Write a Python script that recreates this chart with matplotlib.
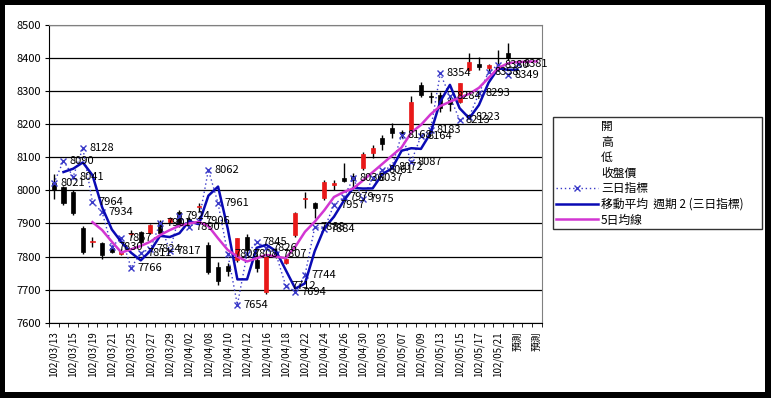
import numpy as np
import pandas as pd
import matplotlib
matplotlib.use("Agg")
import matplotlib.pyplot as plt
from matplotlib.lines import Line2D
from matplotlib.patches import Rectangle

# CJK font first, DejaVu as fallback
plt.rcParams["font.family"] = ["Noto Sans CJK TC", "DejaVu Sans"]

# category labels (trading days + 3 forecast slots)
dates = [
    "102/03/13", "102/03/14", "102/03/15", "102/03/18", "102/03/19", "102/03/20",
    "102/03/21", "102/03/22", "102/03/25", "102/03/26", "102/03/27", "102/03/28",
    "102/03/29", "102/04/01", "102/04/02", "102/04/03", "102/04/08", "102/04/09",
    "102/04/10", "102/04/11", "102/04/12", "102/04/15", "102/04/16", "102/04/17",
    "102/04/18", "102/04/19", "102/04/22", "102/04/23", "102/04/24", "102/04/25",
    "102/04/26", "102/04/29", "102/04/30", "102/05/02", "102/05/03", "102/05/06",
    "102/05/07", "102/05/08", "102/05/09", "102/05/10", "102/05/13", "102/05/14",
    "102/05/15", "102/05/16", "102/05/17", "102/05/20", "102/05/21", "102/05/22",
    "預測", "預測", "預測",
]

# daily candles (first 48 categories)
open_ = [8022, 8010, 7995, 7885, 7845, 7840, 7825, 7808, 7868, 7875,
         7870, 7905, 7905, 7935, 7915, 7950, 7835, 7768, 7770, 7790,
         7858, 7790, 7694, 7815, 7780, 7865, 7975, 7962, 7976, 8016,
         8036, 8044, 8067, 8113, 8157, 8188, 8178, 8183, 8318, 8285,
         8288, 8272, 8268, 8364, 8383, 8370, 8378, 8414]
high = [8050, 8012, 8000, 7892, 7860, 7843, 7830, 7822, 7880, 7878,
        7897, 7910, 7920, 7940, 7920, 7962, 7845, 7785, 7780, 7856,
        7868, 7805, 7802, 7825, 7795, 7935, 7996, 7966, 8030, 8031,
        8082, 8052, 8115, 8137, 8167, 8203, 8183, 8285, 8328, 8298,
        8298, 8282, 8326, 8414, 8404, 8382, 8424, 8445]
low = [7975, 7955, 7925, 7808, 7830, 7792, 7810, 7806, 7858, 7835,
       7868, 7865, 7900, 7890, 7900, 7935, 7748, 7714, 7740, 7785,
       7805, 7752, 7686, 7795, 7778, 7860, 7946, 7916, 7972, 8001,
       8024, 8011, 8062, 8097, 8122, 8157, 8157, 8178, 8283, 8263,
       8238, 8240, 8265, 8360, 8364, 8360, 8362, 8394]
close = [8001, 7962, 7932, 7815, 7847, 7805, 7815, 7818, 7870, 7845,
         7895, 7872, 7917, 7895, 7905, 7952, 7752, 7725, 7755, 7855,
         7820, 7765, 7800, 7800, 7792, 7932, 7976, 7946, 8026, 8022,
         8027, 8031, 8110, 8127, 8141, 8173, 8171, 8268, 8288, 8283,
         8248, 8262, 8324, 8389, 8374, 8379, 8380, 8400]

# 三日指標 (runs into the first forecast slot)
index3 = [8021, 8090, 8041, 8128, 7964, 7934, 7830, 7857, 7766, 7811,
          7824, 7901, 7817, 7924, 7890, 7906, 8062, 7961, 7808, 7654,
          7808, 7845, 7826, 7807, 7712, 7694, 7744, 7888, 7884, 7957,
          7979, 8036, 7975, 8037, 8061, 8072, 8168, 8087, 8164, 8183,
          8354, 8284, 8213, 8223, 8293, 8358, 8380, 8349, 8381]

# 5日均線, starts on the 5th category
ma5 = [None, None, None, None,
       7904, 7880, 7845, 7812, 7822, 7832, 7845, 7865, 7880, 7893,
       7900, 7905, 7892, 7855, 7820, 7800, 7785, 7795, 7805, 7800,
       7795, 7830, 7875, 7905, 7940, 7980, 7995, 8006, 8030, 8055,
       8080, 8105, 8130, 8175, 8198, 8230, 8255, 8268, 8280, 8292,
       8310, 8340, 8370, 8384, 8388, 8389, 8390]

legend_labels = ["開", "高", "低", "收盤價", "三日指標",
                 "移動平均  週期 2 (三日指標)", "5日均線"]

RED = "#e81818"
BLUE_DOT = "#3a3ac8"
BLUE_MA = "#0a0ab4"
MAGENTA = "#d236d2"

W, H = 771, 398
fig = plt.figure(figsize=(W / 100, H / 100), dpi=100)
fig.patch.set_facecolor("black")
# white chart area inside the black frame (drawn below the axes)
fig.patches.append(Rectangle((5 / W, 6 / H), 760 / W, 387 / H,
                             transform=fig.transFigure, facecolor="white",
                             edgecolor="none", zorder=-5))

ax = fig.add_axes([49 / W, 1 - 322.7 / H, 492.7 / W, 297.7 / H])
ax.set_facecolor("white")

x = np.arange(len(dates))
n_candle = len(open_)

# candles: high-low line then body
for i in range(n_candle):
    o, c = open_[i], close[i]
    ax.vlines(i, low[i], high[i], color="black", lw=1, zorder=3)
    col = RED if c > o else "black"
    h = max(abs(c - o), 2)
    ax.bar(i, h, bottom=min(o, c), width=0.42, color=col,
           edgecolor=col, lw=0.5, zorder=4)

# 三日指標, dotted with x markers and value labels
x3 = np.arange(len(index3))
ax.plot(x3, index3, color=BLUE_DOT, ls=(0, (1, 2)), lw=1, marker="x",
        ms=5, mew=1, zorder=5)
for i, v in enumerate(index3):
    ax.annotate(str(v), (i, v), xytext=(4.5, 0), textcoords="offset points",
                ha="left", va="center", fontsize=8, zorder=7)

# moving average trendline, period 2, on 三日指標
ma2 = pd.Series(index3).rolling(2).mean()
ax.plot(x3, ma2, color=BLUE_MA, lw=1.8, zorder=6)

# 5日均線
ma5_s = pd.Series(ma5, dtype=float)
ax.plot(x, ma5_s, color=MAGENTA, lw=1.8, zorder=6)

ax.set_xlim(-0.5, len(dates) - 0.5)
ax.set_ylim(7600, 8500)
ax.set_yticks(range(7600, 8501, 100))
ax.tick_params(axis="y", labelsize=8, length=3, direction="out", pad=3)
ax.yaxis.grid(True, color="black", lw=0.9)
ax.set_axisbelow(True)

ax.set_xticks(x[::2])
ax.set_xticklabels(dates[::2], rotation=90, fontsize=7)
ax.set_xticks(np.arange(-0.5, len(dates), 1), minor=True)
ax.tick_params(axis="x", which="major", length=0, pad=6)
ax.tick_params(axis="x", which="minor", length=3, direction="out")

for side in ["top", "right"]:
    ax.spines[side].set_color("#808080")
for side in ["left", "bottom"]:
    ax.spines[side].set_color("black")

blank = Line2D([], [], linestyle="none")
handles = [blank, blank, blank, blank,
           Line2D([], [], color=BLUE_DOT, ls=(0, (1, 2)), lw=1, marker="x",
                  ms=4, mew=1),
           Line2D([], [], color=BLUE_MA, lw=1.8),
           Line2D([], [], color=MAGENTA, lw=1.8)]
leg = fig.legend(handles, legend_labels, loc="upper left",
                 bbox_to_anchor=(553 / W, 1 - 229 / H, 209 / W, 112 / H),
                 mode="expand", fontsize=8.5, frameon=True, fancybox=False,
                 edgecolor="black", handlelength=3.6, handletextpad=0.2,
                 borderpad=0.25, labelspacing=0.22, borderaxespad=0,
                 numpoints=1)
leg.get_frame().set_linewidth(1)

fig.savefig("out.png", dpi=100, facecolor=fig.get_facecolor())
